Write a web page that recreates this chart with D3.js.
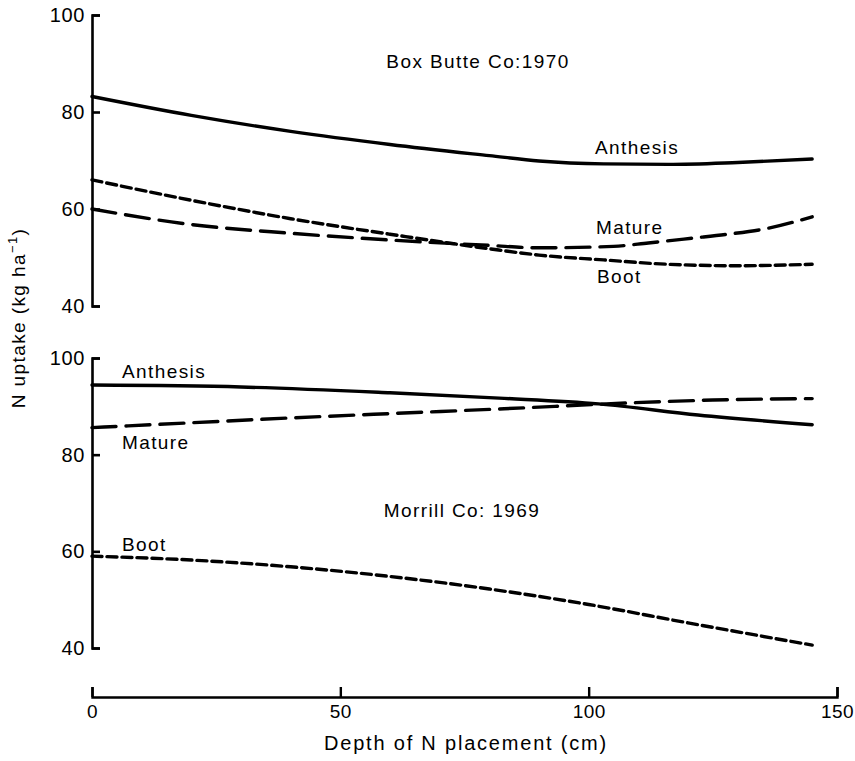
<!DOCTYPE html>
<html>
<head>
<meta charset="utf-8">
<script src="https://cdn.jsdelivr.net/npm/d3@7"></script>
<style>
  html, body { margin: 0; padding: 0; background: #fff; }
  svg { display: block; }
  text { font-family: "Liberation Sans", Arial, Helvetica, sans-serif; fill: #000; }
</style>
</head>
<body>
<svg id="chart" width="855" height="761"></svg>
<script>
// ---- data ----
const xTicks = [0, 50, 100, 150];
const yTicks = [40, 60, 80, 100];

// Box Butte Co: 1970 (upper panel)
const topAnthesisDepth = [0, 20, 40, 60, 80, 90, 103, 116, 130, 145];
const topAnthesisN     = [83.2, 79.3, 76.0, 73.3, 71.0, 69.9, 69.3, 69.2, 69.6, 70.3];
const topMatureDepth   = [0, 20, 40, 60, 80, 90, 105, 112, 121, 128, 136, 145];
const topMatureN       = [60.0, 56.8, 55.0, 53.6, 52.5, 52.0, 52.3, 53.0, 54.0, 54.8, 56.0, 58.4];
const topBootDepth     = [0, 20, 40, 60, 80, 90, 103, 116, 130, 145];
const topBootN         = [66.0, 61.8, 58.0, 54.8, 51.8, 50.5, 49.5, 48.6, 48.3, 48.6];

// Morrill Co: 1969 (lower panel)
const botAnthesisDepth = [0, 30, 60, 82, 102, 122, 145];
const botAnthesisN     = [94.4, 94.0, 92.8, 91.7, 90.5, 88.2, 86.2];
const botMatureDepth   = [0, 20, 40, 60, 83, 108, 125, 145];
const botMatureN       = [85.6, 86.6, 87.6, 88.5, 89.5, 90.7, 91.3, 91.6];
const botBootDepth     = [0, 20, 40, 60, 80, 100, 120, 145];
const botBootN         = [59.0, 58.2, 56.8, 54.8, 52.2, 49.0, 45.2, 40.6];

// ---- layout ----
const svg = d3.select("#chart");
const x = d3.scaleLinear().domain([0, 150]).range([92, 837]);
const yTop = d3.scaleLinear().domain([40, 100]).range([306, 15]);
const yBot = d3.scaleLinear().domain([40, 100]).range([648, 358]);
const xAxisY = 697;

const styles = {
  Anthesis: null,
  Mature: "24,10",
  Boot: "10,5"
};

function drawAxisY(scale) {
  const g = svg.append("g")
    .attr("transform", "translate(92,0)")
    .call(d3.axisLeft(scale).tickValues(yTicks).tickSizeInner(-8).tickSizeOuter(-8).tickPadding(7));
  g.selectAll("path.domain").attr("stroke", "#000").attr("stroke-width", 2.6).attr("fill", "none");
  g.selectAll(".tick line").attr("stroke", "#000").attr("stroke-width", 2.6);
  g.selectAll(".tick text").attr("font-size", 20).attr("letter-spacing", 0.6)
    .style("font-family", "'Liberation Sans', Arial, sans-serif");
}
drawAxisY(yTop);
drawAxisY(yBot);

const gx = svg.append("g")
  .attr("transform", `translate(0,${xAxisY})`)
  .call(d3.axisBottom(x).tickValues(xTicks).tickSizeInner(-10).tickSizeOuter(-10).tickPadding(8));
gx.selectAll("path.domain").attr("stroke", "#000").attr("stroke-width", 2.4).attr("fill", "none");
gx.selectAll(".tick line").attr("stroke", "#000").attr("stroke-width", 2.4);
gx.selectAll(".tick text").attr("font-size", 19).attr("letter-spacing", 0.4)
  .style("font-family", "'Liberation Sans', Arial, sans-serif");

// ---- curves ----
function drawCurve(depths, values, yScale, dash) {
  const pts = depths.map((d, i) => [d, values[i]]);
  const line = d3.line()
    .x(d => x(d[0]))
    .y(d => yScale(d[1]))
    .curve(d3.curveMonotoneX);
  const p = svg.append("path")
    .datum(pts)
    .attr("d", line)
    .attr("fill", "none")
    .attr("stroke", "#000")
    .attr("stroke-width", 3.4)
    .attr("stroke-linecap", "round");
  if (dash) p.attr("stroke-dasharray", dash);
}
drawCurve(topAnthesisDepth, topAnthesisN, yTop, styles.Anthesis);
drawCurve(topMatureDepth, topMatureN, yTop, styles.Mature);
drawCurve(topBootDepth, topBootN, yTop, styles.Boot);
drawCurve(botAnthesisDepth, botAnthesisN, yBot, styles.Anthesis);
drawCurve(botMatureDepth, botMatureN, yBot, styles.Mature);
drawCurve(botBootDepth, botBootN, yBot, styles.Boot);

// ---- labels ----
function label(txt, xp, yp, size, anchor) {
  svg.append("text")
    .attr("x", xp).attr("y", yp)
    .attr("font-size", size || 19)
    .attr("letter-spacing", 1.4)
    .attr("text-anchor", anchor || "start")
    .text(txt);
}
label("Box Butte Co:1970", 478, 68, 19, "middle");
label("Anthesis", 595, 154);
label("Mature", 596, 234);
label("Boot", 597, 283);

label("Anthesis", 122, 378);
label("Mature", 122, 449);
label("Morrill Co: 1969", 462, 517, 19, "middle");
label("Boot", 122, 551);

// axis titles
svg.append("text")
  .attr("x", 466).attr("y", 750)
  .attr("font-size", 20).attr("letter-spacing", 1.8)
  .attr("text-anchor", "middle")
  .text("Depth of N placement (cm)");

const yt = svg.append("text")
  .attr("transform", "translate(25,318) rotate(-90)")
  .attr("font-size", 19).attr("letter-spacing", 1.4)
  .attr("text-anchor", "middle");
yt.append("tspan").text("N uptake (kg ha");
yt.append("tspan").attr("font-size", 13).attr("dy", -8).text("\u22121");
yt.append("tspan").attr("dy", 8).text(")");
</script>
</body>
</html>
